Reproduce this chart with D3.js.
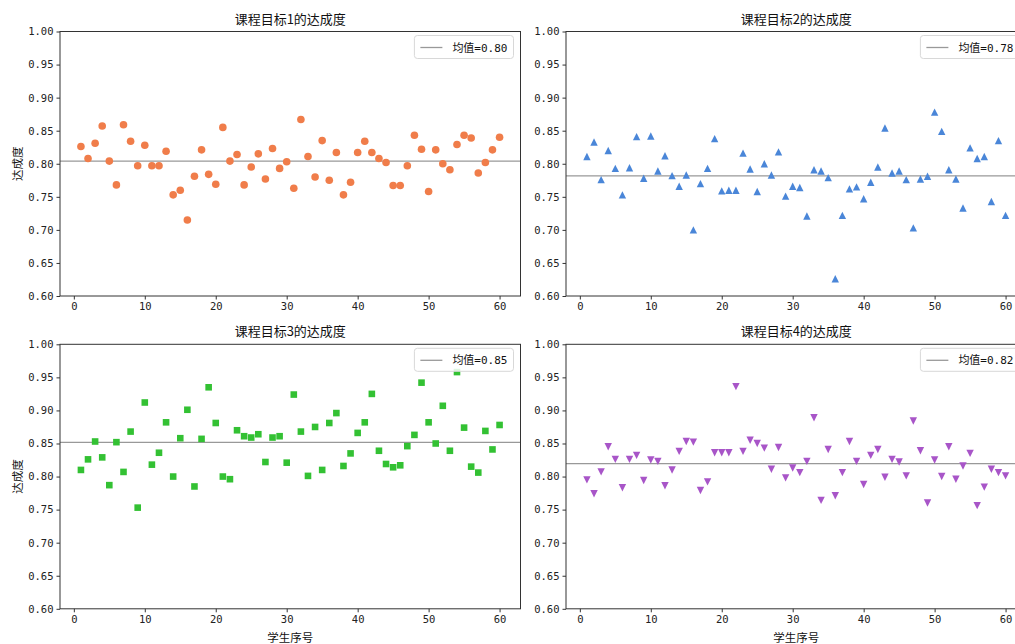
<!DOCTYPE html>
<html>
<head>
<meta charset="utf-8">
<script src="https://cdn.jsdelivr.net/npm/d3@7"></script>
<style>
    body { margin: 0; background: #fff; }
    text { font-family: "Noto Sans CJK SC", "DejaVu Sans", sans-serif; }
</style>
</head>
<body>
<div id="chart-area"></div>
<script>
// Data (60 students per goal)
var goal1 = [0.826,0.808,0.831,0.857,0.804,0.768,0.859,0.834,0.797,0.828,0.797,0.797,0.819,0.753,0.760,0.715,0.781,0.821,0.784,0.769,
             0.855,0.804,0.814,0.768,0.795,0.815,0.777,0.823,0.793,0.803,0.763,0.867,0.811,0.780,0.835,0.775,0.817,0.753,0.772,0.817,
             0.834,0.817,0.808,0.802,0.767,0.767,0.797,0.843,0.822,0.758,0.821,0.800,0.791,0.829,0.843,0.839,0.786,0.802,0.821,0.840];
var goal2 = [0.811,0.833,0.776,0.820,0.793,0.753,0.794,0.841,0.778,0.842,0.789,0.812,0.782,0.766,0.783,0.700,0.770,0.793,0.838,0.759,
             0.760,0.760,0.816,0.792,0.758,0.800,0.783,0.818,0.751,0.766,0.764,0.721,0.791,0.789,0.779,0.626,0.722,0.762,0.765,0.747,
             0.772,0.795,0.854,0.786,0.789,0.776,0.703,0.777,0.781,0.878,0.849,0.791,0.777,0.733,0.824,0.808,0.811,0.743,0.835,0.722];
var goal3 = [0.810,0.826,0.853,0.829,0.787,0.852,0.807,0.868,0.753,0.912,0.818,0.836,0.882,0.800,0.858,0.901,0.785,0.857,0.935,0.881,
             0.800,0.796,0.870,0.861,0.859,0.864,0.822,0.859,0.861,0.821,0.924,0.868,0.801,0.875,0.810,0.881,0.896,0.816,0.835,0.866,
             0.882,0.925,0.839,0.819,0.814,0.817,0.846,0.863,0.942,0.882,0.850,0.907,0.839,0.958,0.874,0.815,0.806,0.869,0.841,0.878];
var goal4 = [0.795,0.774,0.807,0.845,0.826,0.783,0.826,0.832,0.794,0.825,0.823,0.786,0.810,0.838,0.853,0.852,0.779,0.792,0.836,0.836,
             0.836,0.936,0.838,0.855,0.850,0.843,0.811,0.844,0.798,0.813,0.806,0.823,0.889,0.764,0.841,0.771,0.806,0.853,0.823,0.788,
             0.832,0.841,0.799,0.826,0.822,0.801,0.884,0.839,0.760,0.825,0.800,0.845,0.796,0.816,0.835,0.756,0.784,0.811,0.806,0.801];

var students = d3.range(1, 61);
var titles = ["课程目标1的达成度", "课程目标2的达成度", "课程目标3的达成度", "课程目标4的达成度"];
var colors = ["#F07D4A", "#4A86D8", "#33C133", "#A855C8"];
var markers = ["circle", "up", "square", "down"];
var yTicks = [0.60, 0.65, 0.70, 0.75, 0.80, 0.85, 0.90, 0.95, 1.00];
var xTicks = [0, 10, 20, 30, 40, 50, 60];

var panels = [goal1, goal2, goal3, goal4].map(function(vals, i) {
    return { vals: vals, title: titles[i], color: colors[i], marker: markers[i],
             col: i % 2, row: Math.floor(i / 2) };
});

var width = 460.5, height = 264.5;
var lefts = [60, 566], tops = [31.5, 344.3];
var numFont = "'DejaVu Sans Mono', 'Noto Sans CJK SC', monospace";

var svg = d3.select("#chart-area")
    .append("svg")
    .attr("width", 1015)
    .attr("height", 644);

// matplotlib-like marker paths
function markerPath(type) {
    var h;
    if (type == "circle") return d3.symbol().type(d3.symbolCircle).size(Math.PI * 3.8 * 3.8)();
    if (type == "square") { h = 3.3; return "M" + (-h) + "," + (-h) + "H" + h + "V" + h + "H" + (-h) + "Z"; }
    h = 3.7;
    if (type == "up") return "M0," + (-h) + "L" + (-h) + "," + h + "L" + h + "," + h + "Z";
    return "M0," + h + "L" + (-h) + "," + (-h) + "L" + h + "," + (-h) + "Z";
}

panels.forEach(function(p) {
    var g = svg.append("g")
        .attr("transform", "translate(" + lefts[p.col] + "," + tops[p.row] + ")");

    var x = d3.scaleLinear().domain([1 - 2.95, 60 + 2.95]).range([0, width]);
    var y = d3.scaleLinear().domain([0.6, 1.0]).range([height, 0]);

    // Axes
    var xAxis = g.append("g")
        .attr("transform", "translate(0," + height + ")")
        .call(d3.axisBottom(x).tickValues(xTicks).tickSize(3.5).tickPadding(3));
    var yAxis = g.append("g")
        .call(d3.axisLeft(y).tickValues(yTicks).tickFormat(d3.format(".2f")).tickSize(3.5).tickPadding(3));
    [xAxis, yAxis].forEach(function(a) {
        a.select(".domain").remove();
        a.selectAll("line").attr("stroke", "#333");
        a.selectAll("text").attr("font-size", "10.5px").attr("fill", "#222")
            .style("font-family", numFont);
    });

    // Mean line
    var mean = d3.mean(p.vals);
    g.append("line")
        .attr("x1", 0).attr("x2", width)
        .attr("y1", y(mean)).attr("y2", y(mean))
        .attr("stroke", "#999")
        .attr("stroke-width", 1.3);

    // Points
    g.selectAll(".pt")
        .data(p.vals)
        .enter().append("path")
        .attr("class", "pt")
        .attr("d", markerPath(p.marker))
        .attr("transform", function(d, i) { return "translate(" + x(students[i]) + "," + y(d) + ")"; })
        .attr("fill", p.color);

    // Frame
    g.append("rect")
        .attr("width", width).attr("height", height)
        .attr("fill", "none").attr("stroke", "#333").attr("stroke-width", 1);

    // Title
    g.append("text")
        .attr("x", width / 2).attr("y", -8)
        .attr("text-anchor", "middle")
        .attr("font-size", "13px")
        .attr("fill", "#111")
        .text(p.title);

    // Labels
    if (p.col == 0) {
        g.append("text")
            .attr("transform", "rotate(-90)")
            .attr("x", -height / 2).attr("y", -38)
            .attr("text-anchor", "middle")
            .attr("font-size", "11.5px")
            .attr("fill", "#111")
            .text("达成度");
    }
    if (p.row == 1) {
        g.append("text")
            .attr("x", width / 2).attr("y", height + 33)
            .attr("text-anchor", "middle")
            .attr("font-size", "11.5px")
            .attr("fill", "#111")
            .text("学生序号");
    }

    // Legend
    var leg = g.append("g");
    var box = leg.append("rect")
        .attr("rx", 3).attr("ry", 3)
        .attr("fill", "#fff").attr("fill-opacity", 0.85)
        .attr("stroke", "#d8d8d8");
    var legText = leg.append("text")
        .attr("x", 38).attr("y", 16)
        .attr("font-size", "11px")
        .attr("fill", "#111")
        .style("font-family", numFont)
        .text("均值=" + d3.format(".2f")(mean));
    leg.append("line")
        .attr("x1", 6).attr("x2", 28)
        .attr("y1", 12).attr("y2", 12)
        .attr("stroke", "#999").attr("stroke-width", 1.3);
    var tw = legText.node().getComputedTextLength();
    var lw = 38 + tw + 6;
    box.attr("width", lw).attr("height", 23);
    leg.attr("transform", "translate(" + (width - 7 - lw) + ",4)");
});
</script>
</body>
</html>
